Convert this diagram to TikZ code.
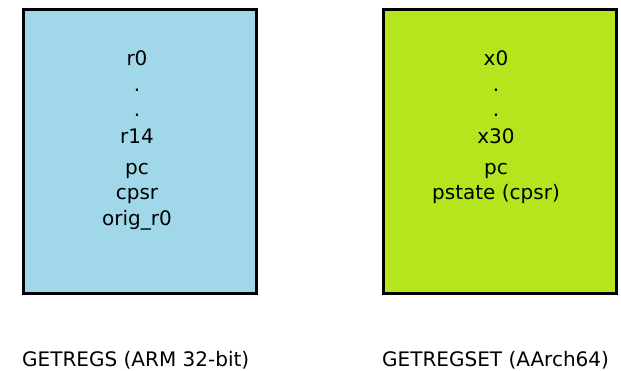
\documentclass[tikz,border=0pt]{standalone}
\usepackage{fontspec}
\setmainfont{DejaVu Sans}
\definecolor{armblue}{RGB}{160,216,233}
\definecolor{aarchlime}{RGB}{181,230,29}
\begin{document}
\begin{tikzpicture}[x=1pt,y=-1pt,
  regbox/.style={draw=black,line width=3pt,inner sep=0pt,minimum width=233pt,minimum height=284pt},
  reg/.style={anchor=base,inner sep=0pt,font=\fontsize{20}{24}\selectfont},
  caption/.style={anchor=base west,inner sep=0pt,font=\fontsize{20}{24}\selectfont}]
\useasboundingbox (0,0) rectangle (621,371);
\fill[white] (0,0) rectangle (621,371);

% ARM 32-bit register set
\node[regbox,fill=armblue] (arm) at (139.5,152) {};
\node[reg] (r0) at (137,66) {r0};
\node[reg] (ad1) at (137,92) {.};
\node[reg] (ad2) at (137,117) {.};
\node[reg] (r14) at (137,144) {r14};
\node[reg] (apc) at (137,175) {pc};
\node[reg] (acpsr) at (137,200) {cpsr};
\node[reg] (orig) at (137,226) {orig\_r0};

% AArch64 register set
\node[regbox,fill=aarchlime] (a64) at (499.5,152) {};
\node[reg] (x0) at (496,66) {x0};
\node[reg] (bd1) at (496,92) {.};
\node[reg] (bd2) at (496,117) {.};
\node[reg] (x30) at (496,144) {x30};
\node[reg] (bpc) at (496,175) {pc};
\node[reg] (pst) at (496,200) {pstate (cpsr)};

% captions
\node[caption] (capl) at (22,366) {GETREGS (ARM 32-bit)};
\node[caption] (capr) at (382,366) {GETREGSET (AArch64)};
\end{tikzpicture}
\end{document}
